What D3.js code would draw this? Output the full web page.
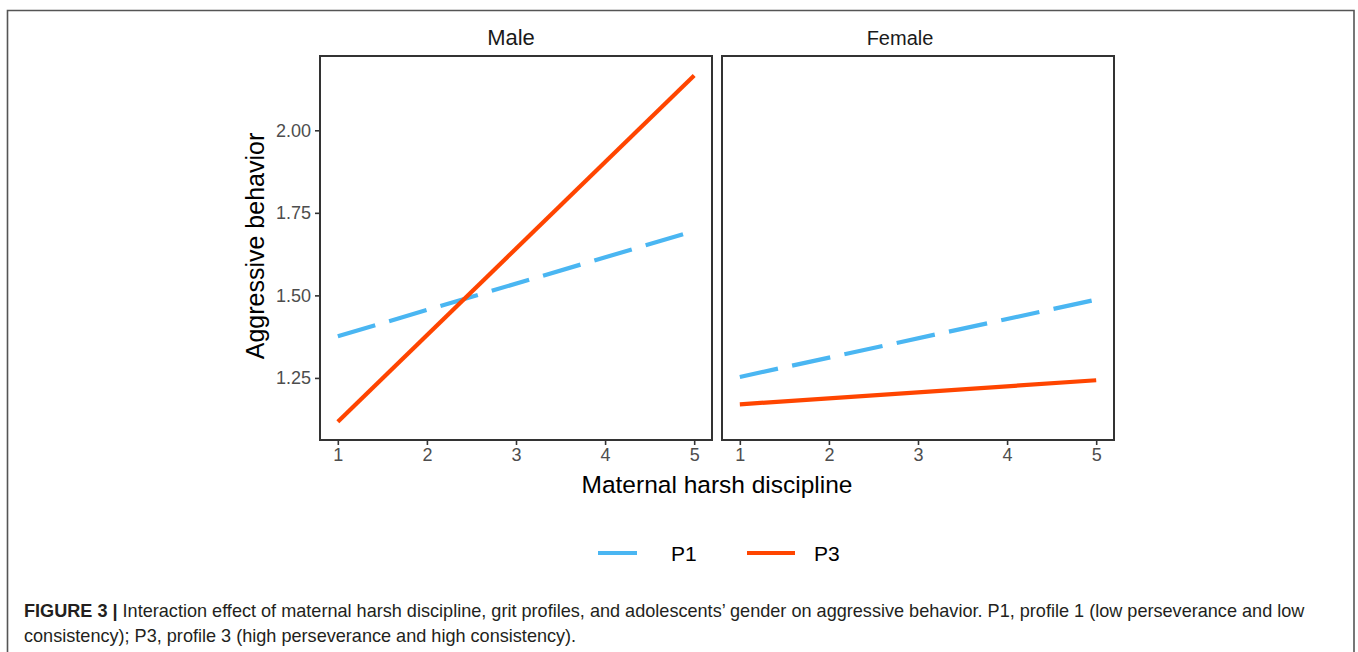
<!DOCTYPE html>
<html><head><meta charset="utf-8">
<script src="https://cdn.jsdelivr.net/npm/d3@7"></script>
<style>body{margin:0;background:#fff}svg{display:block}</style>
</head><body>
<svg id="c" width="1358" height="652"></svg>
<script>
const panels = ["Male", "Female"];
const series = ["P1", "P3"];
const xTicks = [1, 2, 3, 4, 5];
const yTicks = [1.25, 1.50, 1.75, 2.00];
const xEnds = [1, 5];
const maleP1 = [1.376, 1.695];
const maleP3 = [1.117, 2.166];
const femaleP1 = [1.253, 1.487];
const femaleP3 = [1.170, 1.243];
const colors = {P1: "#4AB6F2", P3: "#FF4500"};
const dashes = {P1: "39,14.5", P3: null};
const caption1Bold = "FIGURE 3 |";
const caption1 = " Interaction effect of maternal harsh discipline, grit profiles, and adolescents\u2019 gender on aggressive behavior. P1, profile 1 (low perseverance and low";
const caption2 = "consistency); P3, profile 3 (high perseverance and high consistency).";

const data = {
  Male: {P1: maleP1, P3: maleP3},
  Female: {P1: femaleP1, P3: femaleP3}
};

const FONT = "Liberation Sans, Arial, sans-serif";
const svg = d3.select("#c");
svg.append("path").attr("d","M7.5,700 L7.5,10.5 L1354,10.5 L1354,700")
  .attr("fill","none").attr("stroke","#555").attr("stroke-width",1.6);

const panelX = {Male: [320, 712], Female: [722, 1114]};
const titleShift = {Male: -5, Female: -18};
const pTop = 56, pBottom = 440;
const y = d3.scaleLinear().domain([1.062, 2.225]).range([pBottom, pTop]);

panels.forEach((p, i) => {
  const [x0, x1] = panelX[p];
  const x = d3.scaleLinear().domain([0.8, 5.2]).range([x0, x1]);
  const g = svg.append("g");
  series.forEach(s => {
    const pts = xEnds.map((xv, k) => [xv, data[p][s][k]]);
    const line = d3.line().x(d => x(d[0])).y(d => y(d[1]));
    const path = g.append("path").attr("d", line(pts)).attr("fill","none")
      .attr("stroke", colors[s]).attr("stroke-width", 4.2);
    if (dashes[s]) path.attr("stroke-dasharray", dashes[s]);
  });
  g.append("rect").attr("x", x0).attr("y", pTop).attr("width", x1 - x0).attr("height", pBottom - pTop)
    .attr("fill","none").attr("stroke","#333").attr("stroke-width", 2);
  const xa = g.append("g").attr("transform", `translate(0,${pBottom+1})`)
    .call(d3.axisBottom(x).tickValues(xTicks).tickSize(4).tickPadding(3).tickFormat(d3.format("d")));
  xa.select(".domain").remove();
  xa.selectAll("line").attr("stroke","#333").attr("stroke-width",1.6);
  xa.selectAll("text").attr("fill","#4d4d4d").style("font-family",FONT).style("font-size","18px");
  if (i === 0) {
    const ya = g.append("g").attr("transform", `translate(${x0-1},0)`)
      .call(d3.axisLeft(y).tickValues(yTicks).tickSize(4).tickPadding(4).tickFormat(d3.format(".2f")));
    ya.select(".domain").remove();
    ya.selectAll("line").attr("stroke","#333").attr("stroke-width",1.6);
    ya.selectAll("text").attr("fill","#4d4d4d").style("font-family",FONT).style("font-size","18px");
  }
  g.append("text").attr("x", (x0 + x1) / 2 + titleShift[p]).attr("y", 45).attr("text-anchor","middle")
    .style("font-family",FONT).style("font-size", p === "Male" ? "22px" : "20px")
    .attr("fill","#1a1a1a").text(p);
});

svg.append("text").attr("x", 717).attr("y", 493).attr("text-anchor","middle")
  .style("font-family",FONT).style("font-size","24.5px").attr("fill","#000")
  .text("Maternal harsh discipline");
svg.append("text").attr("transform","translate(264,246) rotate(-90)").attr("text-anchor","middle")
  .style("font-family",FONT).style("font-size","25px").attr("fill","#000")
  .text("Aggressive behavior");

const legX = {P1: [598, 637, 671], P3: [747, 795, 814]};
series.forEach(s => {
  const [a, b, t] = legX[s];
  svg.append("line").attr("x1", a).attr("x2", b).attr("y1", 553).attr("y2", 553)
    .attr("stroke", colors[s]).attr("stroke-width", 4.2);
  svg.append("text").attr("x", t).attr("y", 561).style("font-family",FONT)
    .style("font-size","21px").attr("fill","#000").text(s);
});

const cap = svg.append("text").attr("x", 24).attr("y", 617)
  .style("font-family",FONT).style("font-size","18.1px").attr("fill","#231f20");
cap.append("tspan").style("font-weight","bold").text(caption1Bold);
cap.append("tspan").text(caption1);
svg.append("text").attr("x", 24).attr("y", 642)
  .style("font-family",FONT).style("font-size","18.1px").attr("fill","#231f20")
  .text(caption2);
</script>
</body></html>
